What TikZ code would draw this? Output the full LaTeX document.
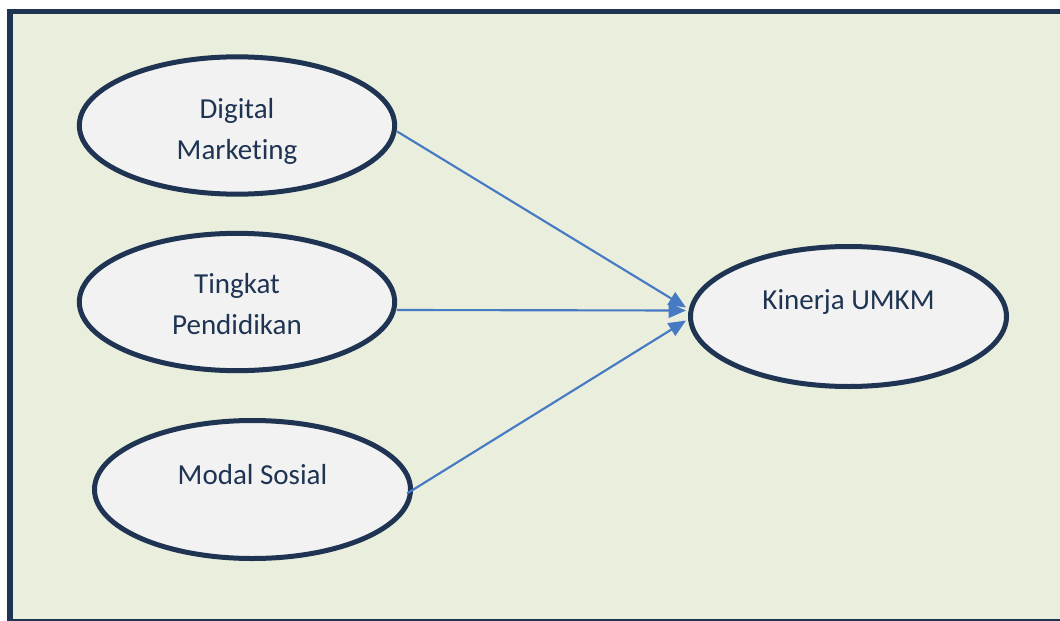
\documentclass[tikz,border=0pt]{standalone}
\usepackage{fontspec}
\setmainfont{Carlito}[Ligatures=NoCommon]
\usetikzlibrary{shapes.geometric,arrows.meta}
\definecolor{navy}{RGB}{30,52,82}
\definecolor{sage}{RGB}{234,238,221}
\definecolor{shade}{RGB}{242,242,242}
\definecolor{linkblue}{RGB}{70,122,195}
\tikzset{
	var/.style={ellipse, draw=navy, line width=3.75pt, fill=shade, minimum width=236.5pt, minimum height=103pt, inner sep=0pt},
	txt/.style={text=navy, font=\fontsize{21.75pt}{30.75pt}\selectfont, align=center},
	conn/.style={draw=linkblue, line width=1.6pt, -{Triangle[length=13pt, width=11pt]}}
}
\begin{document}
\begin{tikzpicture}[x=0.75pt, y=-0.75pt]
	\useasboundingbox (0,0) rectangle (1060,621);
	\fill [white] (0,0) rectangle (1060,621);
	% Frame
	\draw [navy, line width=4pt, fill=sage] (10,11.5) rectangle (1068,621.5);
	% Variables
	\node [var, label={[txt, yshift=-4.5pt]center:{Digital\\Marketing}}] (dm) at (237,125.5) {};
	\node [var, label={[txt, yshift=-1.5pt]center:{Tingkat\\Pendidikan}}] (tp) at (237,302) {};
	\node [var, minimum width=237pt, minimum height=103.5pt, label={[txt, yshift=11.25pt]center:{Modal Sosial}}] (ms) at (252.5,489.5) {};
	\node [var, minimum width=237pt, minimum height=105pt, label={[txt, yshift=10.5pt]center:{Kinerja UMKM}}] (kin) at (848.5,316.5) {};
	% Arrows
	\foreach \src/\sx/\sy/\ey in {dm/0/6/-9, tp/0/8/-6, ms/-6/4/4} {
		\draw [conn] ([shift={(\sx,\sy)}]\src.east) -- ([shift={(-2,\ey)}]kin.west);
	}
\end{tikzpicture}
\end{document}
